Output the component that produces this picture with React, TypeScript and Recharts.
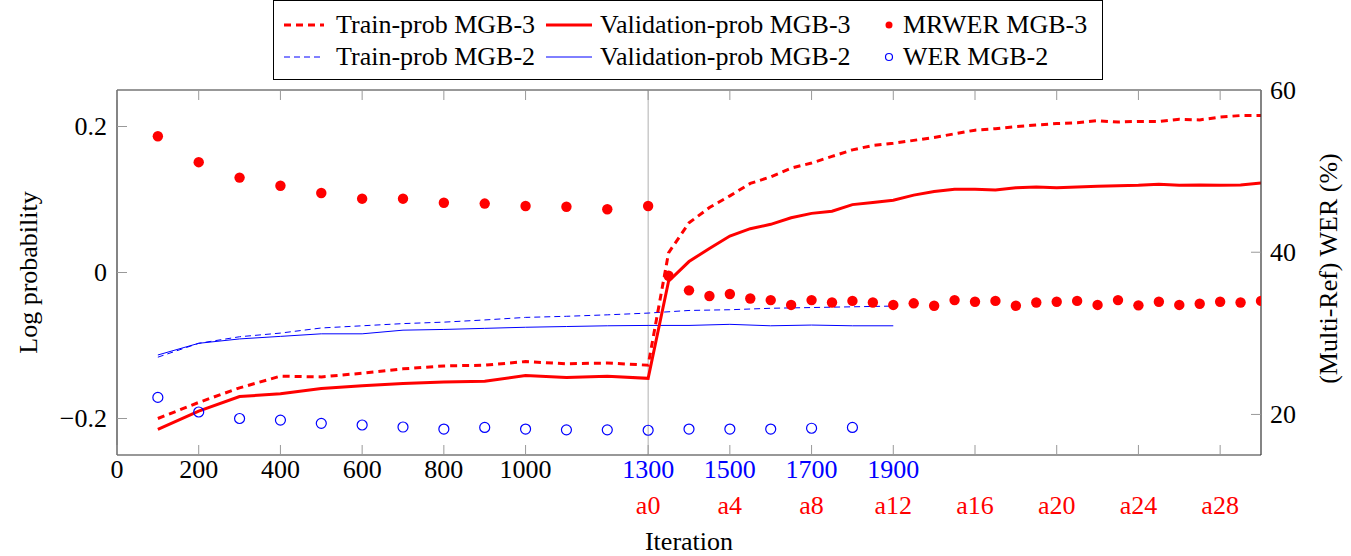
import {
  ComposedChart,
  Line,
  Scatter,
  XAxis,
  YAxis,
  ReferenceLine,
  Legend,
} from "recharts"

// MGB-3: first 1300 iterations every 100, then adaptation steps a1..a30 every 50
const mgb3Iters = [
  100, 200, 300, 400, 500, 600, 700, 800, 900, 1000, 1100, 1200, 1300,
  1350, 1400, 1450, 1500, 1550, 1600, 1650, 1700, 1750, 1800, 1850, 1900, 1950, 2000,
  2050, 2100, 2150, 2200, 2250, 2300, 2350, 2400, 2450, 2500, 2550, 2600, 2650, 2700, 2750, 2800,
]
const trainMgb3 = [
  -0.2, -0.178, -0.158, -0.142, -0.143, -0.138, -0.132, -0.128, -0.127, -0.122, -0.125, -0.124, -0.127,
  0.027, 0.068, 0.089, 0.105, 0.122, 0.131, 0.143, 0.15, 0.159, 0.168, 0.174, 0.177, 0.181, 0.185,
  0.19, 0.195, 0.197, 0.2, 0.202, 0.204, 0.205, 0.208, 0.206, 0.207, 0.207, 0.21, 0.209, 0.213, 0.215, 0.215,
]
const validMgb3 = [
  -0.215, -0.19, -0.17, -0.166, -0.159, -0.155, -0.152, -0.15, -0.149, -0.141, -0.144, -0.142, -0.145,
  -0.012, 0.015, 0.033, 0.05, 0.06, 0.066, 0.075, 0.081, 0.084, 0.093, 0.096, 0.099, 0.106, 0.111,
  0.114, 0.114, 0.113, 0.116, 0.117, 0.116, 0.117, 0.118, 0.119, 0.1195, 0.121, 0.1195, 0.12, 0.1195, 0.12, 0.1225,
]
const mrwerMgb3 = [
  54.3, 51.1, 49.2, 48.2, 47.3, 46.6, 46.6, 46.1, 46.0, 45.7, 45.6, 45.3, 45.7,
  37.1, 35.3, 34.6, 34.85, 34.3, 34.1, 33.5, 34.1, 33.8, 34.0, 33.8, 33.5, 33.7, 33.4,
  34.1, 33.9, 34.0, 33.4, 33.8, 33.9, 34.0, 33.5, 34.1, 33.45, 33.9, 33.5, 33.65, 33.9, 33.8, 34.0,
]

// MGB-2
const mgb2Iters = [100, 200, 300, 400, 500, 600, 700, 800, 900, 1000, 1100, 1200, 1300, 1400, 1500, 1600, 1700, 1800, 1900]
const trainMgb2 = [
  -0.116, -0.097, -0.088, -0.083, -0.076, -0.073, -0.07, -0.068, -0.065, -0.0615,
  -0.06, -0.058, -0.0556, -0.052, -0.051, -0.049, -0.048, -0.047, -0.046,
]
const validMgb2 = [
  -0.113, -0.097, -0.091, -0.0875, -0.084, -0.084, -0.079, -0.078, -0.0765, -0.075,
  -0.074, -0.073, -0.0725, -0.0725, -0.071, -0.073, -0.072, -0.073, -0.073,
]
const werIters = [100, 200, 300, 400, 500, 600, 700, 800, 900, 1000, 1100, 1200, 1300, 1400, 1500, 1600, 1700, 1800]
const werMgb2 = [22.1, 20.3, 19.5, 19.3, 18.9, 18.7, 18.45, 18.2, 18.4, 18.2, 18.1, 18.1, 18.05, 18.2, 18.2, 18.2, 18.3, 18.4]

const xTicks = [0, 200, 400, 600, 800, 1000, 1300, 1500, 1700, 1900, 2100, 2300, 2500, 2700]
const leftTicks = [-0.2, 0, 0.2]
const rightTicks = [20, 40, 60]

const RED = "#ff0000"
const BLUE = "#0000ff"
const FONT = '"Liberation Serif", "Times New Roman", serif'

const toPoints = (xs: number[], ys: number[]) => xs.map((x, i) => ({ x, y: ys[i] }))

const fmt = (v: number) => (v < 0 ? "\u2212" + Math.abs(v) : String(v))

const BottomTick = ({ x, y, payload }: any) => {
  const v = payload.value
  return (
    <g>
      <line x1={x} x2={x} y1={y} y2={y - 10} stroke="#999" />
      {v <= 1900 && (
        <text x={x} y={y + 23} textAnchor="middle" fontSize={26} fontFamily={FONT} fill={v < 1300 ? "#000" : BLUE}>
          {v}
        </text>
      )}
      {v >= 1300 && (
        <text x={x} y={y + 59} textAnchor="middle" fontSize={26} fontFamily={FONT} fill={RED}>
          {"a" + (v - 1300) / 50}
        </text>
      )}
    </g>
  )
}

const TopTick = ({ x, y }: any) => <line x1={x} x2={x} y1={y} y2={y + 10} stroke="#999" />

const LeftTick = ({ x, y, payload }: any) => (
  <g>
    <line x1={x} x2={x + 10} y1={y} y2={y} stroke="#999" />
    <text x={x - 10} y={y + 8.5} textAnchor="end" fontSize={26} fontFamily={FONT} fill="#000">
      {fmt(payload.value)}
    </text>
  </g>
)

const RightTick = ({ x, y, payload }: any) => (
  <g>
    <line x1={x - 10} x2={x} y1={y} y2={y} stroke="#999" />
    <text x={x + 9} y={y + 8.5} textAnchor="start" fontSize={26} fontFamily={FONT} fill="#000">
      {payload.value}
    </text>
  </g>
)

const legendItems = [
  { name: "Train-prob MGB-3", kind: "line", color: RED, width: 3, dash: "7 5", row: 0, col: 0 },
  { name: "Validation-prob MGB-3", kind: "line", color: RED, width: 3, dash: undefined, row: 0, col: 1 },
  { name: "MRWER MGB-3", kind: "dot", color: RED, row: 0, col: 2 },
  { name: "Train-prob MGB-2", kind: "line", color: BLUE, width: 1, dash: "6 4", row: 1, col: 0 },
  { name: "Validation-prob MGB-2", kind: "line", color: BLUE, width: 1, dash: undefined, row: 1, col: 1 },
  { name: "WER MGB-2", kind: "circle", color: BLUE, row: 1, col: 2 },
]
const colSample = [10, 272, 608]
const colSampleW = [40, 46, 14]
const colText = [62, 326, 629]
const rowCenter = [24, 56]

const renderLegend = () => (
  <div
    style={{
      position: "relative",
      width: 830,
      height: 80,
      border: "1px solid #000",
      boxSizing: "border-box",
      background: "#fff",
      fontFamily: FONT,
      fontSize: 26,
      color: "#000",
    }}
  >
    {legendItems.map((it: any) => (
      <div key={it.name}>
        <svg
          width={colSampleW[it.col]}
          height={12}
          style={{ position: "absolute", left: colSample[it.col], top: rowCenter[it.row] - 6 }}
        >
          {it.kind === "line" && (
            <line x1={0} x2={colSampleW[it.col]} y1={6} y2={6} stroke={it.color} strokeWidth={it.width} strokeDasharray={it.dash} />
          )}
          {it.kind === "dot" && <circle cx={7} cy={6} r={3.5} fill={it.color} />}
          {it.kind === "circle" && <circle cx={7} cy={6} r={3.5} fill="none" stroke={it.color} strokeWidth={1.2} />}
        </svg>
        <span
          style={{
            position: "absolute",
            left: colText[it.col],
            top: rowCenter[it.row] - 15,
            lineHeight: "30px",
            whiteSpace: "nowrap",
          }}
        >
          {it.name}
        </span>
      </div>
    ))}
  </div>
)

export default function App() {
  return (
    <div style={{ position: "absolute", left: 0, top: 0, width: 1351, height: 556, fontFamily: FONT, background: "#fff" }}>
      <ComposedChart width={1351} height={556} margin={{ top: 89, right: 0, bottom: 0, left: 0 }}>
        <XAxis
          xAxisId="bottom"
          type="number"
          dataKey="x"
          domain={[0, 2800]}
          ticks={xTicks}
          interval={0}
          allowDataOverflow
          height={101}
          tickSize={0}
          tickMargin={0}
          tickLine={false}
          tick={<BottomTick />}
          axisLine={{ stroke: "#333", strokeWidth: 1.2 }}
          label={({ viewBox }: any) => (
            <text
              x={viewBox.x + viewBox.width / 2}
              y={viewBox.y + 95}
              textAnchor="middle"
              fontSize={26}
              fontFamily={FONT}
              fill="#000"
            >
              Iteration
            </text>
          )}
        />
        <XAxis
          xAxisId="top"
          orientation="top"
          type="number"
          dataKey="x"
          domain={[0, 2800]}
          ticks={xTicks}
          interval={0}
          allowDataOverflow
          height={1}
          tickSize={0}
          tickMargin={0}
          tickLine={false}
          tick={<TopTick />}
          axisLine={{ stroke: "#333", strokeWidth: 1.2 }}
        />
        <YAxis
          yAxisId="left"
          type="number"
          domain={[-0.25, 0.25]}
          ticks={leftTicks}
          interval={0}
          allowDataOverflow
          width={117}
          tickSize={0}
          tickMargin={0}
          tickLine={false}
          tick={<LeftTick />}
          axisLine={{ stroke: "#333", strokeWidth: 1.2 }}
          label={({ viewBox }: any) => {
            const cx = viewBox.x + 28
            const cy = viewBox.y + viewBox.height / 2
            return (
              <text x={cx} y={cy} transform={`rotate(-90 ${cx} ${cy})`} textAnchor="middle" dominantBaseline="central" fontSize={26} fontFamily={FONT} fill="#000">
                Log probability
              </text>
            )
          }}
        />
        <YAxis
          yAxisId="right"
          orientation="right"
          type="number"
          domain={[15, 60]}
          ticks={rightTicks}
          interval={0}
          allowDataOverflow
          width={90}
          tickSize={0}
          tickMargin={0}
          tickLine={false}
          tick={<RightTick />}
          axisLine={{ stroke: "#333", strokeWidth: 1.2 }}
          label={({ viewBox }: any) => {
            const cx = viewBox.x + 67
            const cy = viewBox.y + viewBox.height / 2 - 4
            return (
              <text x={cx} y={cy} transform={`rotate(-90 ${cx} ${cy})`} textAnchor="middle" dominantBaseline="central" fontSize={26} fontFamily={FONT} fill="#000">
                (Multi-Ref) WER (%)
              </text>
            )
          }}
        />
        <Legend
          layout="horizontal"
          align="center"
          verticalAlign="middle"
          wrapperStyle={{ left: 273, top: 0, width: 830, height: 80 }}
          content={renderLegend}
        />
        <ReferenceLine xAxisId="bottom" yAxisId="left" x={1300} stroke="#b0b0b0" strokeWidth={1} />
        <Line
          xAxisId="bottom"
          yAxisId="left"
          data={toPoints(mgb2Iters, trainMgb2)}
          dataKey="y"
          type="linear"
          stroke={BLUE}
          strokeWidth={1}
          strokeDasharray="6 4"
          dot={false}
          activeDot={false}
          isAnimationActive={false}
          name="Train-prob MGB-2"
        />
        <Line
          xAxisId="bottom"
          yAxisId="left"
          data={toPoints(mgb2Iters, validMgb2)}
          dataKey="y"
          type="linear"
          stroke={BLUE}
          strokeWidth={1}
          dot={false}
          activeDot={false}
          isAnimationActive={false}
          name="Validation-prob MGB-2"
        />
        <Line
          xAxisId="bottom"
          yAxisId="left"
          data={toPoints(mgb3Iters, trainMgb3)}
          dataKey="y"
          type="linear"
          stroke={RED}
          strokeWidth={3}
          strokeDasharray="7 5"
          dot={false}
          activeDot={false}
          isAnimationActive={false}
          name="Train-prob MGB-3"
        />
        <Line
          xAxisId="bottom"
          yAxisId="left"
          data={toPoints(mgb3Iters, validMgb3)}
          dataKey="y"
          type="linear"
          stroke={RED}
          strokeWidth={3}
          dot={false}
          activeDot={false}
          isAnimationActive={false}
          name="Validation-prob MGB-3"
        />
        <Scatter
          xAxisId="bottom"
          yAxisId="right"
          data={toPoints(mgb3Iters, mrwerMgb3)}
          dataKey="y"
          isAnimationActive={false}
          name="MRWER MGB-3"
          shape={(p: any) => <circle cx={p.cx} cy={p.cy} r={5.2} fill={RED} />}
        />
        <Scatter
          xAxisId="bottom"
          yAxisId="right"
          data={toPoints(werIters, werMgb2)}
          dataKey="y"
          isAnimationActive={false}
          name="WER MGB-2"
          shape={(p: any) => <circle cx={p.cx} cy={p.cy} r={5} fill="none" stroke={BLUE} strokeWidth={1.2} />}
        />
      </ComposedChart>
    </div>
  )
}
